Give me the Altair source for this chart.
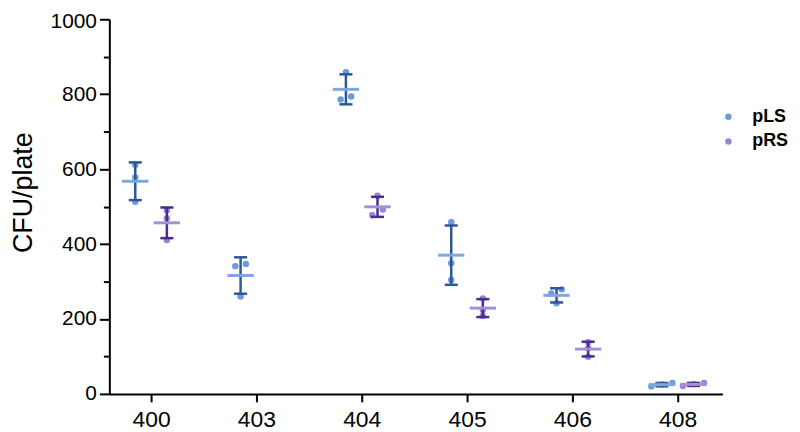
import json
import altair as alt
import pandas as pd

# ---------------- data ----------------
strains = ["400", "403", "404", "405", "406", "408"]
series_names = ["pLS", "pRS"]
pLS_values = [
    [612, 578, 513],
    [347, 341, 260],
    [859, 786, 794],
    [458, 349, 304],
    [279, 268, 242],
    [20, 25, 29],
]
pRS_values = [
    [490, 469, 411],
    [],
    [529, 492, 477],
    [255, 224, 208],
    [138, 122, 99],
    [21, 26, 29],
]
y_ticks = [0, 100, 200, 300, 400, 500, 600, 700, 800, 900, 1000]

# colours
point_colors = ["#6c9bd8", "#9b82d6"]
mean_colors = ["#7ea7dc", "#a58fdc"]
bar_colors = ["#2c5896", "#4a2c8e"]
FONT = "Liberation Sans"


def spread(vals, gap=15.5):
    """Horizontal spreading of overlapping points (scatter-dot style)."""
    order = sorted(range(len(vals)), key=lambda i: vals[i])
    offs = [0.0] * len(vals)
    clusters = []
    for i in order:
        if clusters and vals[i] - vals[clusters[-1][-1]] <= gap:
            clusters[-1].append(i)
        else:
            clusters.append([i])
    for c in clusters:
        n = len(c)
        for k, i in enumerate(c):
            offs[i] = k - (n - 1) / 2
    return offs


rows = []
for s_name, table in zip(series_names, [pLS_values, pRS_values]):
    for idx, vals in enumerate(table):
        for v, j in zip(vals, spread(vals)):
            rows.append({"strain": strains[idx], "idx": idx, "series": s_name,
                         "value": v, "jit": j})
df = pd.DataFrame(rows)

xscale = alt.Scale(domain=[-0.396, 5.425], nice=False, zero=False)
yscale = alt.Scale(domain=[0, 1000], nice=False)

xaxis = alt.Axis(
    title=None,
    values=list(range(len(strains))),
    labelExpr=json.dumps(strains) + "[datum.value]",
    grid=False,
    domainColor="black", domainWidth=2,
    tickColor="black", tickWidth=2, tickSize=8,
    labelFont=FONT, labelFontSize=23, labelColor="black", labelPadding=7,
)
yaxis = alt.Axis(
    title="CFU/plate",
    values=y_ticks,
    format="d",
    labelExpr="datum.value % 200 === 0 ? datum.label : ''",
    labelOffset={"condition": {"test": "datum.value === 1000", "value": 2}, "value": 0},
    grid=False,
    domainColor="black", domainWidth=2,
    tickColor="black", tickWidth=2,
    tickSize={"condition": {"test": "datum.value % 200 === 0", "value": 10}, "value": 6},
    labelFont=FONT, labelFontSize=21, labelColor="black", labelPadding=3,
    titleFont=FONT, titleFontSize=27, titleFontWeight="normal", titleColor="black",
    titleAngle=270, titleAlign="center", titleBaseline="middle",
    titleX=-86, titleY=174,
)

offset_expr = "datum.idx + (datum.series === 'pLS' ? -0.15 : 0.15)"

base = alt.Chart(df)

points = base.transform_calculate(
    xc=offset_expr
).transform_calculate(
    xp="datum.xc + datum.jit * 0.1"
).mark_circle(size=42, opacity=1).encode(
    x=alt.X("xp:Q", scale=xscale, axis=xaxis),
    y=alt.Y("value:Q", scale=yscale, axis=yaxis),
    color=alt.Color(
        "series:N",
        scale=alt.Scale(domain=series_names, range=point_colors),
        legend=alt.Legend(
            title=None, orient="none", legendX=614, legendY=89,
            symbolType="circle", symbolSize=42, symbolStrokeWidth=0,
            labelFont=FONT, labelFontSize=18, labelFontWeight="bold",
            labelColor="black", labelOffset=15, rowPadding=7, padding=0,
        ),
    ),
)

stats = base.transform_aggregate(
    mean="mean(value)", sd="stdev(value)", groupby=["idx", "series"]
).transform_calculate(
    xc=offset_expr
).transform_calculate(
    lo="datum.mean - datum.sd",
    hi="datum.mean + datum.sd",
    capL="datum.xc - 0.062",
    capR="datum.xc + 0.062",
    mL="datum.xc - 0.125",
    mR="datum.xc + 0.125",
)

bar_color = alt.Color("series:N",
                      scale=alt.Scale(domain=series_names, range=bar_colors),
                      legend=None)
mean_color = alt.Color("series:N",
                       scale=alt.Scale(domain=series_names, range=mean_colors),
                       legend=None)

vbar = stats.mark_rule(strokeWidth=2.5).encode(
    x=alt.X("xc:Q", scale=xscale, axis=xaxis),
    y=alt.Y("lo:Q", scale=yscale, axis=yaxis),
    y2="hi:Q",
    color=bar_color,
)

caps = stats.transform_fold(["lo", "hi"], as_=["which", "yv"]).mark_rule(
    strokeWidth=2.5
).encode(
    x=alt.X("capL:Q", scale=xscale, axis=xaxis),
    x2="capR:Q",
    y=alt.Y("yv:Q", scale=yscale, axis=yaxis),
    color=bar_color,
)

mean_line = stats.mark_rule(strokeWidth=3).encode(
    x=alt.X("mL:Q", scale=xscale, axis=xaxis),
    x2="mR:Q",
    y=alt.Y("mean:Q", scale=yscale, axis=yaxis),
    color=mean_color,
)

chart = alt.layer(points, vbar, caps, mean_line).resolve_scale(
    color="independent"
).properties(
    width=617,
    height=377,
    autosize=alt.AutoSizeParams(type="none"),
    padding={"left": 102, "top": 10, "right": 70, "bottom": 36},
    background="white",
).configure_view(stroke=None)

chart.save("out.html", embed_options={"renderer": "svg", "actions": False})
